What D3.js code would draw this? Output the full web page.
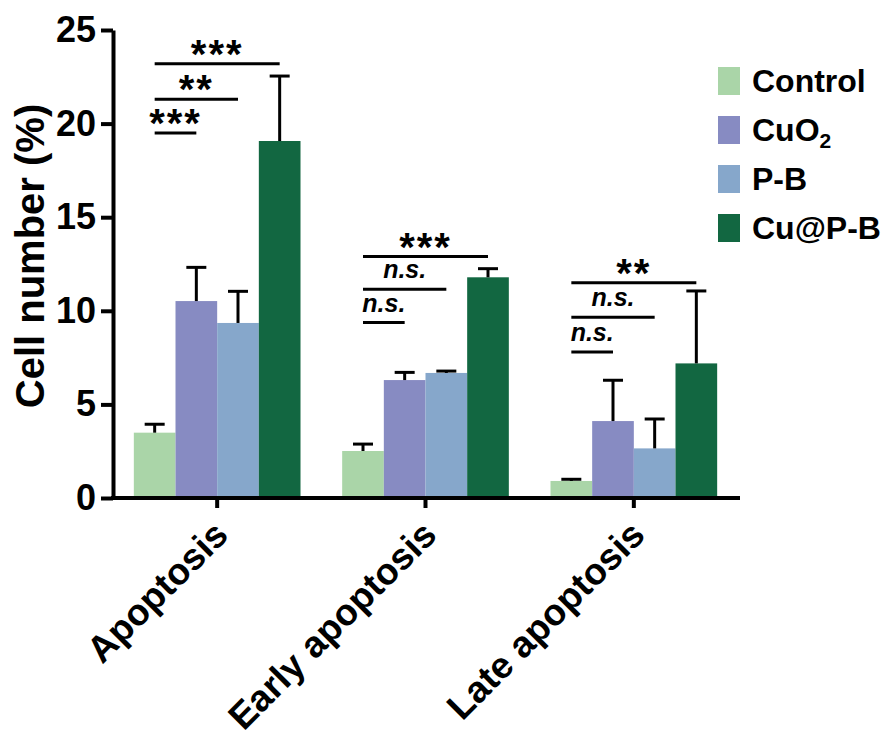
<!DOCTYPE html>
<html>
<head>
<meta charset="utf-8">
<script src="https://cdn.jsdelivr.net/npm/d3@7/dist/d3.min.js"></script>
<style>
  body { margin: 0; background: #fff; }
  svg text { font-family: "Liberation Sans", Arial, sans-serif; font-weight: bold; }
</style>
</head>
<body>
<div id="chart"></div>
<script>
// data
const categories = ["Apoptosis", "Early apoptosis", "Late apoptosis"]
const groups = ["Control", "CuO2", "P-B", "Cu@P-B"]
const colors = ["#aad5a8", "#878bc2", "#86a7cb", "#126741"]

const controlMean = [3.49, 2.51, 0.91]
const controlSd   = [0.45, 0.37, 0.09]
const cuo2Mean    = [10.52, 6.30, 4.11]
const cuo2Sd      = [1.80, 0.41, 2.18]
const pbMean      = [9.35, 6.68, 2.65]
const pbSd        = [1.69, 0.10, 1.57]
const cupbMean    = [19.07, 11.79, 7.19]
const cupbSd      = [3.47, 0.46, 3.87]

const yTicks = [0, 5, 10, 15, 20, 25]

// significance brackets: Control vs group index, bracket level in % units
const sigApoptosis = [
  {to: 1, level: 19.5, label: "***"},
  {to: 2, level: 21.3, label: "**"},
  {to: 3, level: 23.2, label: "***"}
]
const sigEarly = [
  {to: 1, level: 9.37, label: "n.s."},
  {to: 2, level: 11.15, label: "n.s."},
  {to: 3, level: 12.9, label: "***"}
]
const sigLate = [
  {to: 1, level: 7.8, label: "n.s."},
  {to: 2, level: 9.65, label: "n.s."},
  {to: 3, level: 11.5, label: "**"}
]

const means = [controlMean, cuo2Mean, pbMean, cupbMean]
const sds = [controlSd, cuo2Sd, pbSd, cupbSd]
const sigs = [sigApoptosis, sigEarly, sigLate]

let rows = []
categories.forEach((c, ci) => {
  groups.forEach((g, gi) => {
    rows.push({cat: c, group: g, gi: gi, mean: means[gi][ci], sd: sds[gi][ci]})
  })
})

const width = 888, height = 740
const svg = d3.select("#chart").append("svg")
  .attr("width", width)
  .attr("height", height)

const x0 = d3.scaleBand()
  .domain(categories)
  .range([113, 738])
  .paddingInner(0.2)
  .paddingOuter(0.1)

const x1 = d3.scaleBand()
  .domain(groups)
  .range([0, x0.bandwidth()])

const y = d3.scaleLinear()
  .domain([0, 25])
  .range([498, 30])

// bars
svg.selectAll("rect.bar").data(rows)
  .enter().append("rect")
    .attr("class", "bar")
    .attr("x", d => x0(d.cat) + x1(d.group))
    .attr("y", d => y(d.mean))
    .attr("width", x1.bandwidth())
    .attr("height", d => y(0) - y(d.mean))
    .attr("fill", d => colors[d.gi])

// error bars (upper only)
let err = svg.append("g").attr("stroke", "#000").attr("stroke-width", 3)
rows.forEach(d => {
  const cx = x0(d.cat) + x1(d.group) + x1.bandwidth() / 2
  err.append("line")
    .attr("x1", cx).attr("x2", cx)
    .attr("y1", y(d.mean)).attr("y2", y(d.mean + d.sd))
  err.append("line")
    .attr("x1", cx - 10).attr("x2", cx + 10)
    .attr("y1", y(d.mean + d.sd)).attr("y2", y(d.mean + d.sd))
})

// y axis
let yAxis = svg.append("g")
  .attr("transform", "translate(113,0)")
  .call(d3.axisLeft(y).tickValues(yTicks).tickSize(12).tickPadding(5).tickSizeOuter(0))
yAxis.select(".domain").attr("stroke-width", 4)
yAxis.selectAll(".tick line").attr("stroke-width", 4)
yAxis.selectAll(".tick text")
  .attr("font-size", 36)
  .attr("fill", "#000")

// x axis
let xAxis = svg.append("g")
  .attr("transform", "translate(0,498)")
  .call(d3.axisBottom(x0).tickSize(10).tickSizeOuter(0).tickFormat(""))
xAxis.select(".domain").attr("stroke-width", 4).attr("d", "M111,0H740")
xAxis.selectAll(".tick line").attr("stroke-width", 4)

// x labels, rotated
svg.selectAll("text.xlab").data(categories)
  .enter().append("text")
    .attr("class", "xlab")
    .attr("text-anchor", "end")
    .attr("font-size", 37)
    .attr("transform", d => "translate(" + (x0(d) + x0.bandwidth() / 2 + 13) + ",537) rotate(-45)")
    .text(d => d)

// y title
svg.append("text")
  .attr("text-anchor", "middle")
  .attr("font-size", 40)
  .attr("transform", "translate(44,256) rotate(-90)")
  .text("Cell number (%)")

// significance brackets
let sig = svg.append("g")
sigs.forEach((list, ci) => {
  const cat = categories[ci]
  const xStart = x0(cat) + x1(groups[0]) + x1.bandwidth() / 2
  list.forEach(s => {
    const xEnd = x0(cat) + x1(groups[s.to]) + x1.bandwidth() / 2
    const ly = y(s.level)
    sig.append("line")
      .attr("x1", xStart).attr("x2", xEnd)
      .attr("y1", ly).attr("y2", ly)
      .attr("stroke", "#000").attr("stroke-width", 3)
    const isNs = s.label === "n.s."
    sig.append("text")
      .attr("text-anchor", "middle")
      .attr("x", (xStart + xEnd) / 2)
      .attr("y", isNs ? ly - 11 : ly + 4)
      .attr("font-size", isNs ? 25 : 40)
      .attr("font-style", isNs ? "italic" : "normal")
      .attr("letter-spacing", isNs ? 0 : 2)
      .text(s.label)
  })
})

// legend
let legend = svg.append("g")
groups.forEach((g, i) => {
  const top = 67 + i * 49
  legend.append("rect")
    .attr("x", 718).attr("y", top)
    .attr("width", 22).attr("height", 28)
    .attr("fill", colors[i])
  let t = legend.append("text")
    .attr("x", 752).attr("y", top + 25)
    .attr("font-size", 32)
  if (g === "CuO2") {
    t.append("tspan").text("CuO")
    t.append("tspan").attr("font-size", 21).attr("dy", 7).text("2")
  } else {
    t.text(g)
  }
})
</script>
</body>
</html>
